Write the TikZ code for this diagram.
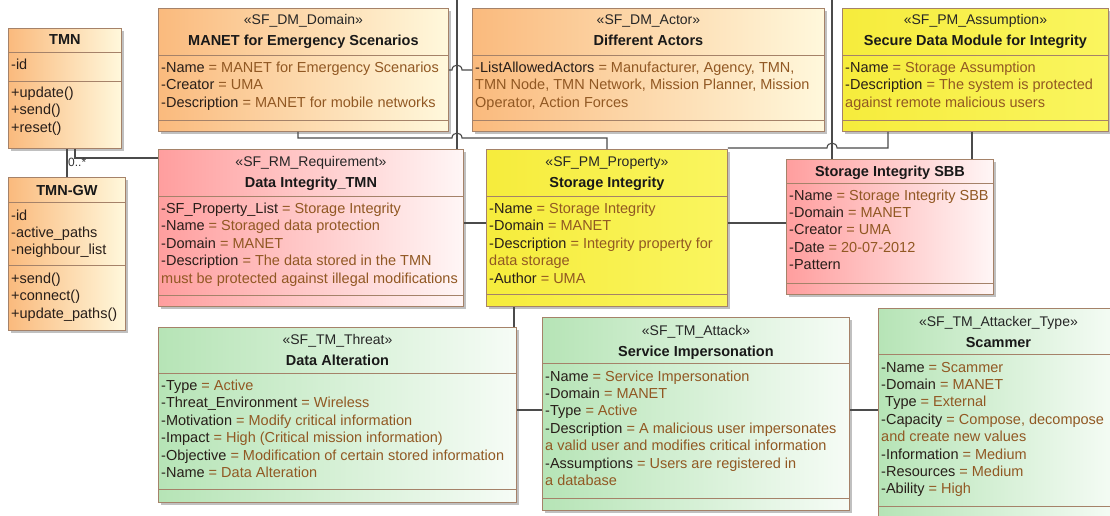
\documentclass[tikz,border=0pt]{standalone}
\usepackage{fontspec}
\setmainfont{Liberation Sans}
\usetikzlibrary{calc,shadows}
\definecolor{bord}{RGB}{165,130,105}
\definecolor{valc}{RGB}{145,88,35}
\definecolor{namec}{RGB}{40,30,25}
\definecolor{connc}{RGB}{75,75,75}
\definecolor{oL}{RGB}{250,186,125}
\definecolor{oR}{RGB}{255,248,220}
\definecolor{pL}{RGB}{255,158,158}
\definecolor{pR}{RGB}{255,246,246}
\definecolor{yL}{RGB}{246,236,60}
\definecolor{yR}{RGB}{250,245,95}
\definecolor{gL}{RGB}{182,228,182}
\definecolor{gR}{RGB}{246,252,246}
\tikzset{
  box/.style={draw=bord, line width=0.9pt, inner sep=0pt,
    drop shadow={shadow xshift=3pt, shadow yshift=-3pt, fill=black!35, opacity=0.7}},
  obox/.style={box, left color=oL, right color=oR},
  pbox/.style={box, left color=pL, right color=pR},
  ybox/.style={box, left color=yL, right color=yR},
  gbox/.style={box, left color=gL, right color=gR},
  sepl/.style={draw=bord, line width=0.8pt},
  attr/.style={anchor=base west, inner sep=0pt, text=namec, font=\fontsize{14.5}{17.4}\selectfont},
  stereo/.style={anchor=base, inner sep=0pt, text=black!85, font=\fontsize{14}{17}\selectfont},
  bname/.style={anchor=base, inner sep=0pt, text=black!90, font=\fontsize{14.5}{17.4}\selectfont\bfseries},
  conn/.style={draw=connc, line width=1.1pt},
  mult/.style={anchor=base west, inner sep=0pt, text=black!80, font=\fontsize{12}{14}\selectfont},
}
\newcounter{tc}
\newcommand\umlbox[6]{\node[#6, minimum width=#4pt, minimum height=#5pt, anchor=north west] (#1) at (#2,#3) {};}
\newcommand\sepat[2]{\draw[sepl] ($(#1.north west)+(0,#2)$) -- ($(#1.north east)+(0,#2)$);}
\newcommand\stereoat[3]{\stepcounter{tc}\node[stereo] (txt\arabic{tc}) at ($(#1.north)+(0,#2)$) {#3};}
\newcommand\nameat[3]{\stepcounter{tc}\node[bname] (txt\arabic{tc}) at ($(#1.north)+(0,#2)$) {#3};}
\newcommand\attrl[3]{\stepcounter{tc}\node[attr] (txt\arabic{tc}) at ($(#1.north west)+(3,#2)$) {#3};}
\newcommand\av[2]{#1\ \textcolor{valc}{=\ #2}}
\newcommand\vl[1]{\textcolor{valc}{#1}}
\begin{document}
\begin{tikzpicture}[x=1pt, y=-1pt]
\useasboundingbox (0,0) rectangle (1110,516);
\clip (0,0) rectangle (1110,516);
\fill[white] (0,0) rectangle (1110,516);

% ---------- boxes ----------
\umlbox{tmn}{8}{28}{113}{120}{obox}
\umlbox{tmngw}{8}{177}{117}{153}{obox}
\umlbox{manet}{158}{8}{290}{123}{obox}
\umlbox{actors}{472}{8}{352}{123}{obox}
\umlbox{secure}{842}{8}{266}{123}{ybox}
\umlbox{dataint}{158}{149}{305}{157}{pbox}
\umlbox{storprop}{486}{149}{241}{157}{ybox}
\umlbox{sbb}{786}{159}{207}{135}{pbox}
\umlbox{alter}{158}{327}{358}{175}{gbox}
\umlbox{service}{542}{317}{307}{193}{gbox}
\umlbox{scammer}{878}{308}{240}{220}{gbox}

% ---------- connectors ----------
\coordinate (topA) at (457,-2);
\coordinate (topB) at (832,-2);
\draw[conn] (tmngw.north) -- (tmngw.north |- tmn.south);
\draw[conn] ($(tmn.south west)+(67,0)$) |- ($(dataint.north west)+(0,9)$);
\stepcounter{tc}\node[mult] (txt\arabic{tc}) at (68,166) {0..*};
\draw[conn] (topA) -- (topA |- dataint.north);
\draw[conn] ($(manet.north east)+(0,62)$) -- (452,70) .. controls (452,63.5) and (462,63.5) .. (462,70) -- ($(actors.north west)+(0,62)$);
\draw[conn] ($(manet.south west)+(140,0)$) -- (298,138) -- (452,138) .. controls (452,131.5) and (462,131.5) .. (462,138) -- (607,138) -- ($(storprop.north west)+(121,0)$);
\draw[conn] ($(secure.south west)+(46,0)$) -- (888,148) -- (837,148) .. controls (837,141.5) and (827,141.5) .. (827,148) -- ($(storprop.north east)+(0,-1)$);
\draw[conn] (topB) -- (topB |- sbb.north);
\draw[conn] ($(secure.south west)+(130,0)$) -- ($(sbb.north west)+(186,0)$);
\draw[conn] ($(dataint.north east)+(0,74)$) -- ($(storprop.north west)+(0,74)$);
\draw[conn] ($(storprop.north east)+(0,74)$) -- ($(sbb.north west)+(0,64)$);
\draw[conn] ($(storprop.south west)+(28,0)$) -- ($(alter.north west)+(356,0)$);
\draw[conn] ($(alter.north east)+(0,83)$) -- ($(service.north west)+(0,93)$);
\draw[conn] ($(service.north east)+(0,93)$) -- ($(scammer.north west)+(0,102)$);

% ---------- TMN ----------
\sepat{tmn}{24}\sepat{tmn}{53}
\nameat{tmn}{17}{TMN}
\attrl{tmn}{42}{-id}
\attrl{tmn}{70}{+update()}
\attrl{tmn}{87}{+send()}
\attrl{tmn}{104}{+reset()}

% ---------- TMN-GW ----------
\sepat{tmngw}{25}\sepat{tmngw}{88}
\nameat{tmngw}{18}{TMN-GW}
\attrl{tmngw}{43}{-id}
\attrl{tmngw}{60}{-active\_paths}
\attrl{tmngw}{77}{-neighbour\_list}
\attrl{tmngw}{106}{+send()}
\attrl{tmngw}{123}{+connect()}
\attrl{tmngw}{141}{+update\_paths()}

% ---------- MANET ----------
\sepat{manet}{47}\sepat{manet}{112}
\stereoat{manet}{17}{«SF\_DM\_Domain»}
\nameat{manet}{38}{MANET for Emergency Scenarios}
\attrl{manet}{64.5}{\av{-Name}{MANET for Emergency Scenarios}}
\attrl{manet}{81.9}{\av{-Creator}{UMA}}
\attrl{manet}{99.3}{\av{-Description}{MANET for mobile networks}}

% ---------- Actors ----------
\sepat{actors}{47}\sepat{actors}{112}
\stereoat{actors}{17}{«SF\_DM\_Actor»}
\nameat{actors}{38}{Different Actors}
\attrl{actors}{64.5}{\av{-ListAllowedActors}{Manufacturer, Agency, TMN,}}
\attrl{actors}{81.9}{\vl{TMN Node, TMN Network, Mission Planner, Mission}}
\attrl{actors}{99.3}{\vl{Operator, Action Forces}}

% ---------- Secure ----------
\sepat{secure}{47}\sepat{secure}{112}
\stereoat{secure}{17}{«SF\_PM\_Assumption»}
\nameat{secure}{38}{Secure Data Module for Integrity}
\attrl{secure}{64.5}{\av{-Name}{Storage Assumption}}
\attrl{secure}{81.9}{\av{-Description}{The system is protected}}
\attrl{secure}{99.3}{\vl{against remote malicious users}}

% ---------- Data Integrity ----------
\sepat{dataint}{47}\sepat{dataint}{146}
\stereoat{dataint}{17}{«SF\_RM\_Requirement»}
\nameat{dataint}{38}{Data Integrity\_TMN}
\attrl{dataint}{64.5}{\av{-SF\_Property\_List}{Storage Integrity}}
\attrl{dataint}{81.9}{\av{-Name}{Storaged data protection}}
\attrl{dataint}{99.3}{\av{-Domain}{MANET}}
\attrl{dataint}{116.7}{\av{-Description}{The data stored in the TMN}}
\attrl{dataint}{134.1}{\vl{must be protected against illegal modifications}}

% ---------- Storage property ----------
\sepat{storprop}{47}\sepat{storprop}{145}
\stereoat{storprop}{17}{«SF\_PM\_Property»}
\nameat{storprop}{38}{Storage Integrity}
\attrl{storprop}{64.5}{\av{-Name}{Storage Integrity}}
\attrl{storprop}{81.9}{\av{-Domain}{MANET}}
\attrl{storprop}{99.3}{\av{-Description}{Integrity property for}}
\attrl{storprop}{116.7}{\vl{data storage}}
\attrl{storprop}{134.1}{\av{-Author}{UMA}}

% ---------- SBB ----------
\sepat{sbb}{24}\sepat{sbb}{124}
\nameat{sbb}{17}{Storage Integrity SBB}
\attrl{sbb}{41}{\av{-Name}{Storage Integrity SBB}}
\attrl{sbb}{58.4}{\av{-Domain}{MANET}}
\attrl{sbb}{75.8}{\av{-Creator}{UMA}}
\attrl{sbb}{93.2}{\av{-Date}{20-07-2012}}
\attrl{sbb}{110.6}{-Pattern}

% ---------- Data Alteration ----------
\sepat{alter}{46}\sepat{alter}{162}
\stereoat{alter}{17}{«SF\_TM\_Threat»}
\nameat{alter}{38}{Data Alteration}
\attrl{alter}{63.5}{\av{-Type}{Active}}
\attrl{alter}{80.9}{\av{-Threat\_Environment}{Wireless}}
\attrl{alter}{98.3}{\av{-Motivation}{Modify critical information}}
\attrl{alter}{115.7}{\av{-Impact}{High (Critical mission information)}}
\attrl{alter}{133.1}{\av{-Objective}{Modification of certain stored information}}
\attrl{alter}{150.5}{\av{-Name}{Data Alteration}}

% ---------- Service ----------
\sepat{service}{46}\sepat{service}{181}
\stereoat{service}{18}{«SF\_TM\_Attack»}
\nameat{service}{39}{Service Impersonation}
\attrl{service}{64}{\av{-Name}{Service Impersonation}}
\attrl{service}{81.4}{\av{-Domain}{MANET}}
\attrl{service}{98.8}{\av{-Type}{Active}}
\attrl{service}{116.2}{\av{-Description}{A malicious user impersonates}}
\attrl{service}{133.6}{\vl{a valid user and modifies critical information}}
\attrl{service}{151}{\av{-Assumptions}{Users are registered in}}
\attrl{service}{168.4}{\vl{a database}}

% ---------- Scammer ----------
\sepat{scammer}{46}\sepat{scammer}{198}
\stereoat{scammer}{18}{«SF\_TM\_Attacker\_Type»}
\nameat{scammer}{39}{Scammer}
\attrl{scammer}{64}{\av{-Name}{Scammer}}
\attrl{scammer}{81.4}{\av{-Domain}{MANET}}
\attrl{scammer}{98.8}{\av{\ Type}{External}}
\attrl{scammer}{116.2}{\av{-Capacity}{Compose, decompose}}
\attrl{scammer}{133.6}{\vl{and create new values}}
\attrl{scammer}{151}{\av{-Information}{Medium}}
\attrl{scammer}{168.4}{\av{-Resources}{Medium}}
\attrl{scammer}{185.8}{\av{-Ability}{High}}
\end{tikzpicture}
\end{document}
